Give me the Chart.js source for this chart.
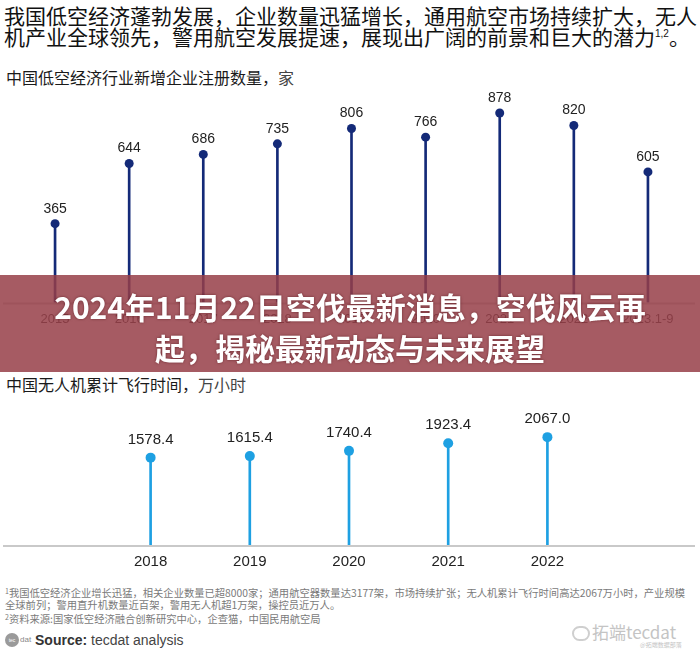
<!DOCTYPE html>
<html><head><meta charset="utf-8">
<script src="https://cdn.jsdelivr.net/npm/chart.js@4.4.1/dist/chart.umd.min.js"></script>
<style>
html,body{margin:0;padding:0;background:#fff;}
#wrap{position:relative;width:700px;height:650px;overflow:hidden;background:#fff;font-family:"Noto Sans CJK SC","Noto Sans",sans-serif;}
.abs{position:absolute;white-space:nowrap;}
.head{left:4px;font-size:21px;line-height:21px;color:#111;letter-spacing:0;}
.sup{font-family:"Liberation Sans",Arial,sans-serif;font-size:10px;position:relative;top:-8px;}
.sub{left:6px;font-size:16px;line-height:20px;color:#1a1a1a;}
.sub .u{color:#444;}
.banner{left:0;top:275px;width:700px;height:97px;background:rgba(150,62,72,0.85);}
.bt{left:0;width:700px;text-align:center;color:#fff;font-weight:700;font-size:30px;line-height:40px;text-shadow:0 0 3px rgba(60,0,10,0.55);}
.foot{left:5px;font-size:10.3px;line-height:12.5px;color:#7a7a7a;}
.fsup{font-size:7px;position:relative;top:-3px;}
.src{left:35px;top:631px;font-family:"Liberation Sans",Arial,sans-serif;font-size:14px;line-height:18px;color:#444;}
.logo{left:5px;top:633px;width:14px;height:14px;border-radius:7px;background:#9a9a9a;color:#fff;font-size:5px;line-height:14px;text-align:center;font-family:"Liberation Sans",Arial,sans-serif;}
.logod{left:20px;top:634px;font-size:8px;line-height:12px;color:#888;font-family:"Liberation Sans",Arial,sans-serif;}
.wm{left:592px;top:622px;font-size:17px;line-height:20px;color:#c4c4c4;}
.wm2{left:640px;top:641px;font-size:6px;line-height:8px;color:#c4c4c4;}
.wmi{left:572px;top:626px;width:14px;height:11px;border:2px solid #cfcfcf;border-radius:8px;}
</style></head>
<body>
<div id="wrap">
  <div class="abs head" style="top:5px;">我国低空经济蓬勃发展，企业数量迅猛增长，通用航空市场持续扩大，无人</div>
  <div class="abs head" style="top:26px;">机产业全球领先，警用航空发展提速，展现出广阔的前景和巨大的潜力<span class="sup">1,2</span>。</div>
  <div class="abs sub" style="top:67px;">中国低空经济行业新增企业注册数量，<span class="u">家</span></div>

  <canvas id="c1" class="abs" style="left:0;top:80px;" width="700" height="256"></canvas>

  <div class="abs banner"></div>
  <div class="abs bt" style="top:286px;">2024年11月22日空伐最新消息，空伐风云再</div>
  <div class="abs bt" style="top:327px;">起，揭秘最新动态与未来展望</div>

  <div class="abs sub" style="top:374px;">中国无人机累计飞行时间，<span class="u">万小时</span></div>
  <canvas id="c2" class="abs" style="left:0;top:400px;" width="700" height="179"></canvas>

  <div class="abs foot" style="top:587px;"><span class="fsup">1</span>我国低空经济企业增长迅猛，相关企业数量已超8000家；通用航空器数量达3177架，市场持续扩张；无人机累计飞行时间高达2067万小时，产业规模</div>
  <div class="abs foot" style="top:599px;">全球前列；警用直升机数量近百架，警用无人机超1万架，操控员近万人。</div>
  <div class="abs foot" style="top:613px;"><span class="fsup">2</span>资料来源:国家低空经济融合创新研究中心，企查猫，中国民用航空局</div>

  <div class="abs logo">tec</div>
  <div class="abs logod">dat</div>
  <div class="abs src"><b style="color:#333;">Source:</b> tecdat analysis</div>

  <div class="abs wmi"></div>
  <div class="abs wm">拓端tecdat</div>
  <div class="abs wm2">@拓端数据部落</div>
</div>
<script>
// ---- data ----
const firmYears = ['2015','2016','2017','2018','2019','2020','2021','2022','2023.1-9'];
const firmCounts = [365, 644, 686, 735, 806, 766, 878, 820, 605];
const droneYears = ['2018','2019','2020','2021','2022'];
const droneHours = [1578.4, 1615.4, 1740.4, 1923.4, 2067.0];

const valueLabels = {
  id: 'valueLabels',
  afterDatasetsDraw(chart, args, opts) {
    const meta = chart.getDatasetMeta(0);
    const data = chart.data.datasets[0].data;
    const ctx = chart.ctx;
    ctx.save();
    ctx.font = opts.font;
    ctx.fillStyle = opts.color;
    ctx.textAlign = 'center';
    ctx.textBaseline = 'middle';
    meta.data.forEach((pt, i) => {
      ctx.fillText(opts.fmt(data[i]), pt.x, pt.y - opts.offset);
    });
    ctx.restore();
  }
};
const baseLine = {
  id: 'baseLine',
  beforeDatasetsDraw(chart, args, opts) {
    const ctx = chart.ctx;
    const y = chart.chartArea.bottom + 1;
    ctx.save();
    ctx.strokeStyle = opts.color;
    ctx.lineWidth = 2;
    ctx.beginPath();
    ctx.moveTo(opts.x0, y);
    ctx.lineTo(opts.x1, y);
    ctx.stroke();
    ctx.restore();
  }
};

function lollipop(id, labels, values, color, cfg) {
  return new Chart(document.getElementById(id), {
    type: 'bar',
    data: {
      labels: labels,
      datasets: [
        { type: 'line', data: values, showLine: false, pointRadius: cfg.r, pointHoverRadius: cfg.r,
          pointBackgroundColor: color, pointBorderWidth: 0, borderColor: color },
        { type: 'bar', data: values, backgroundColor: color, barThickness: 2, base: cfg.min }
      ]
    },
    options: {
      responsive: false,
      animation: false,
      events: [],
      layout: { padding: cfg.pad },
      plugins: {
        legend: { display: false },
        tooltip: { enabled: false },
        valueLabels: { font: cfg.lblFont, color: '#222', offset: cfg.lblOff, fmt: cfg.fmt },
        baseLine: { color: '#c9c9c9', x0: 3, x1: 695 }
      },
      scales: {
        x: {
          offset: true,
          grid: { display: false, drawTicks: false },
          border: { display: false },
          ticks: { color: cfg.tickColor, font: cfg.tickFont, padding: cfg.tickPad, maxRotation: 0, autoSkip: false }
        },
        y: { display: false, min: cfg.min, max: cfg.max }
      }
    },
    plugins: [baseLine, valueLabels]
  });
}

lollipop('c1', firmYears, firmCounts, '#142a78', {
  r: 4.5, min: 0, max: 915,
  pad: { top: 25, left: 18, right: 15, bottom: 0 },
  lblFont: '14px "Liberation Sans", Arial, sans-serif', lblOff: 15,
  fmt: v => String(v),
  tickColor: '#333', tickFont: { family: '"Liberation Sans", Arial, sans-serif', size: 13 }, tickPad: 9
});

lollipop('c2', droneYears, droneHours, '#1ea0e2', {
  r: 5, min: -500, max: 2427,
  pad: { top: 22, left: 101, right: 103, bottom: 0 },
  lblFont: '15px "Liberation Sans", Arial, sans-serif', lblOff: 18,
  fmt: v => v.toFixed(1),
  tickColor: '#222', tickFont: { family: '"Liberation Sans", Arial, sans-serif', size: 15 }, tickPad: 8
});
</script>
</body></html>
